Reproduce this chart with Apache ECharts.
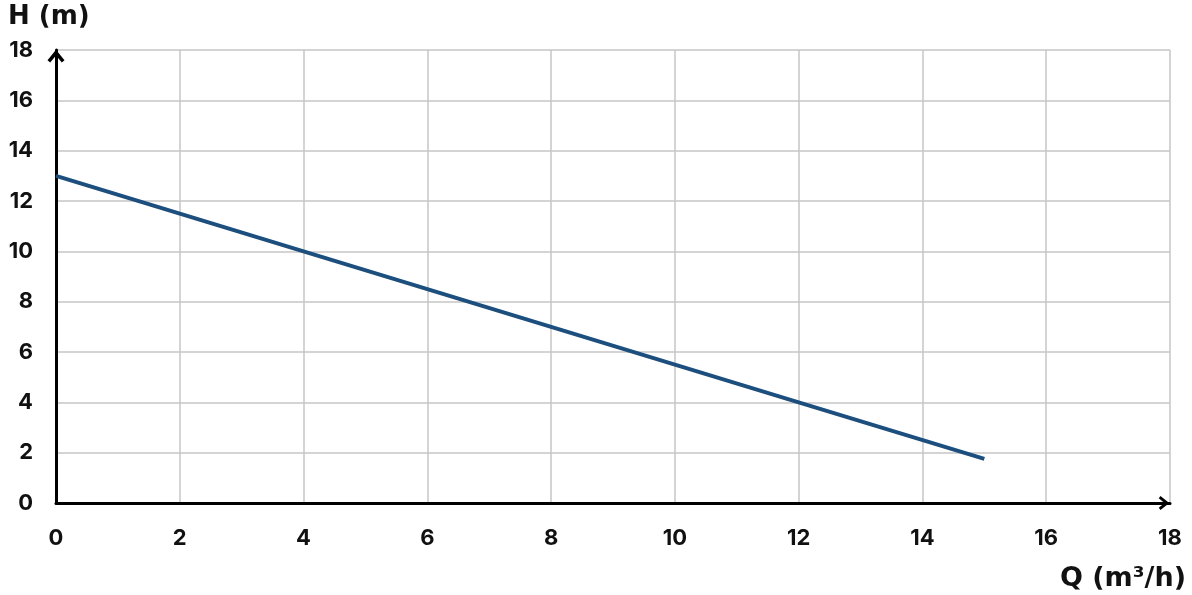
<!DOCTYPE html>
<html>
<head>
<meta charset="utf-8">
<script src="https://cdn.jsdelivr.net/npm/echarts@6/dist/echarts.min.js"></script>
<style>
html,body{margin:0;padding:0;background:#fff;}
#chart{width:1192px;height:595px;}
</style>
</head>
<body>
<div id="chart"></div>
<script>
const flowQ = [0, 4, 8, 12, 15];
const headH = [13, 10, 7, 4, 1.75];
const xAxisTitle = 'Q (m³/h)';
const yAxisTitle = 'H (m)';

const chart = echarts.init(document.getElementById('chart'));
const tickFont = 'Inter';
const nameFont = 'DejaVu Sans';
const arrow = 'path://M0,10 L8,0 L16,10 L13.5,12 L8,5.5 L2.5,12 Z';
chart.setOption({
  animation: false,
  backgroundColor: '#ffffff',
  grid: { left: 56, right: 22, top: 50, bottom: 92, containLabel: false },
  xAxis: {
    type: 'value', min: 0, max: 18, interval: 2,
    name: xAxisTitle, nameLocation: 'end', nameGap: 16,
    nameTextStyle: { fontFamily: nameFont, fontWeight: 700, fontSize: 27, color: '#111', align: 'right', verticalAlign: 'top', padding: [62, 0, 0, 0] },
    axisLine: { show: true, symbol: ['none', arrow], symbolSize: [14, 13], symbolOffset: [0, -6], lineStyle: { color: '#000', width: 3 } },
    axisTick: { show: false },
    axisLabel: { margin: 24, fontFamily: tickFont, fontWeight: 700, fontSize: 22, color: '#111' },
    splitLine: { show: true, lineStyle: { color: '#c6c6c6', width: 1.5 } }
  },
  yAxis: {
    type: 'value', min: 0, max: 18, interval: 2,
    name: yAxisTitle, nameLocation: 'end', nameGap: 20,
    nameTextStyle: { fontFamily: nameFont, fontWeight: 700, fontSize: 26, color: '#111', align: 'left', padding: [0, 0, 0, -48] },
    axisLine: { show: true, symbol: ['none', arrow], symbolSize: [17, 16], symbolOffset: [0, -6], lineStyle: { color: '#000', width: 3 } },
    axisTick: { show: false },
    axisLabel: { margin: 23, fontFamily: tickFont, fontWeight: 700, fontSize: 22, color: '#111' },
    splitLine: { show: true, lineStyle: { color: '#c6c6c6', width: 1.5 } }
  },
  series: [{
    type: 'line',
    data: flowQ.map((q, i) => [q, headH[i]]),
    showSymbol: false,
    lineStyle: { color: '#1d4f7e', width: 4 },
    z: 3
  }]
});
</script>
</body>
</html>
